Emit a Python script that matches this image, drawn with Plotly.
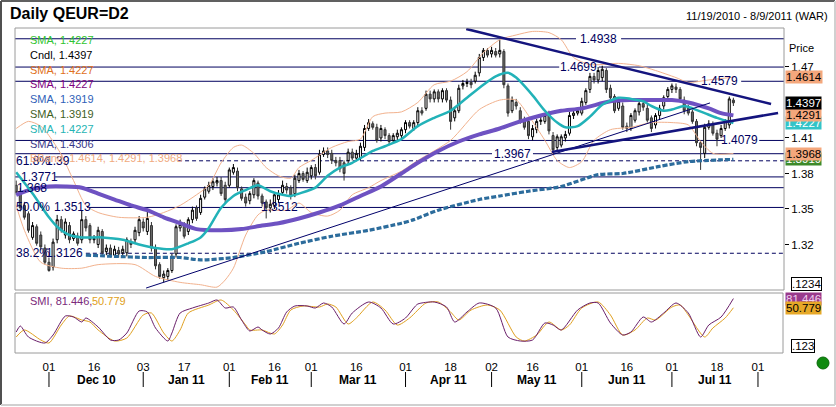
import pandas as pd
import plotly.graph_objects as go

W, H = 836, 407
def px(x): return x / W
def py(y): return 1 - y / H

# ---------------- data ----------------
START, END = '2010-11-19', '2011-08-09'
CAL = pd.bdate_range(START, END)
def di(d): return int(CAL.get_loc(pd.Timestamp(d)))

OPEN = [1.370,1.364,1.353,1.346,1.326,1.335,1.328,1.317,1.305,1.301,
1.324,1.341,1.328,1.336,1.325,1.327,1.324,1.341,1.336,1.324,
1.320,1.331,1.314,1.317,1.311,1.315,1.313,1.313,1.322,1.324,
1.330,1.339,1.331,1.336,1.317,1.303,1.292,1.293,1.298,1.312,
1.334,1.336,1.331,1.341,1.351,1.347,1.360,1.365,1.369,1.372,
1.374,1.370,1.370,1.381,1.382,1.367,1.360,1.357,1.362,1.372,
1.361,1.356,1.351,1.353,1.358,1.364,1.369,1.368,1.363,1.374,
1.380,1.374,1.378,1.385,1.381,1.396,1.399,1.397,1.391,1.391,
1.389,1.391,1.398,1.393,1.393,1.402,1.418,1.422,1.419,1.410,
1.417,1.412,1.408,1.411,1.412,1.417,1.423,1.418,1.423,1.433,
1.435,1.447,1.443,1.449,1.443,1.450,1.442,1.427,1.433,1.454,
1.456,1.457,1.458,1.465,1.478,1.484,1.481,1.483,1.481,1.483,
1.454,1.433,1.440,1.433,1.425,1.424,1.411,1.417,1.424,1.424,
1.430,1.412,1.402,1.404,1.410,1.414,1.429,1.431,1.431,1.440,
1.451,1.462,1.459,1.461,1.467,1.452,1.445,1.435,1.437,1.420,
1.418,1.425,1.432,1.439,1.435,1.427,1.421,1.429,1.437,1.445,
1.451,1.453,1.451,1.442,1.435,1.432,1.424,1.406,1.397,1.419,
1.421,1.414,1.412,1.418,1.421,1.442]
HIGH = [1.374,1.368,1.356,1.348,1.339,1.337,1.331,1.320,1.309,1.325,
1.345,1.344,1.342,1.339,1.331,1.330,1.349,1.344,1.338,1.328,
1.335,1.333,1.320,1.320,1.319,1.318,1.319,1.326,1.325,1.335,
1.344,1.342,1.349,1.339,1.320,1.305,1.298,1.300,1.312,1.337,
1.341,1.339,1.343,1.352,1.353,1.362,1.369,1.373,1.376,1.377,
1.377,1.373,1.385,1.388,1.385,1.369,1.363,1.365,1.376,1.374,
1.363,1.358,1.358,1.364,1.366,1.374,1.372,1.370,1.379,1.383,
1.382,1.385,1.387,1.388,1.400,1.402,1.402,1.400,1.394,1.394,
1.391,1.401,1.401,1.400,1.406,1.421,1.426,1.424,1.422,1.421,
1.419,1.414,1.414,1.417,1.419,1.425,1.425,1.425,1.436,1.436,
1.450,1.450,1.451,1.451,1.452,1.452,1.445,1.435,1.455,1.459,
1.460,1.460,1.466,1.481,1.486,1.486,1.487,1.486,1.493,1.485,
1.456,1.445,1.443,1.436,1.428,1.426,1.421,1.426,1.428,1.431,
1.433,1.415,1.413,1.413,1.416,1.432,1.433,1.435,1.444,1.452,
1.465,1.465,1.470,1.471,1.469,1.455,1.447,1.444,1.440,1.423,
1.431,1.435,1.441,1.441,1.438,1.429,1.431,1.438,1.446,1.453,
1.456,1.456,1.453,1.445,1.438,1.434,1.426,1.408,1.422,1.425,
1.424,1.417,1.421,1.426,1.445,1.444]
LOW = [1.362,1.348,1.341,1.330,1.324,1.319,1.315,1.303,1.297,1.298,
1.321,1.330,1.325,1.321,1.323,1.319,1.321,1.331,1.321,1.321,
1.317,1.310,1.311,1.309,1.309,1.309,1.310,1.310,1.317,1.321,
1.327,1.331,1.328,1.314,1.299,1.291,1.288,1.290,1.296,1.309,
1.331,1.325,1.328,1.338,1.340,1.345,1.358,1.363,1.366,1.369,
1.361,1.355,1.368,1.379,1.365,1.357,1.352,1.354,1.359,1.358,
1.352,1.342,1.347,1.350,1.355,1.362,1.363,1.358,1.360,1.372,
1.373,1.372,1.375,1.375,1.379,1.394,1.393,1.388,1.386,1.381,
1.374,1.388,1.391,1.391,1.391,1.399,1.416,1.417,1.406,1.407,
1.409,1.404,1.406,1.408,1.409,1.414,1.418,1.416,1.420,1.429,
1.433,1.440,1.440,1.440,1.440,1.440,1.417,1.424,1.431,1.451,
1.453,1.452,1.456,1.462,1.475,1.478,1.478,1.478,1.478,1.452,
1.428,1.431,1.434,1.422,1.417,1.409,1.408,1.414,1.421,1.422,
1.413,1.397,1.399,1.402,1.407,1.412,1.426,1.429,1.429,1.438,
1.448,1.456,1.456,1.458,1.448,1.441,1.431,1.433,1.417,1.415,
1.416,1.423,1.429,1.433,1.423,1.415,1.418,1.426,1.434,1.442,
1.448,1.448,1.440,1.430,1.429,1.422,1.403,1.383,1.393,1.417,
1.412,1.403,1.410,1.416,1.418,1.437]
CLOSE = [1.364,1.351,1.343,1.332,1.336,1.321,1.318,1.305,1.298,1.322,
1.341,1.332,1.339,1.324,1.329,1.321,1.341,1.334,1.324,1.325,
1.332,1.313,1.317,1.311,1.316,1.312,1.316,1.324,1.320,1.332,
1.341,1.334,1.342,1.317,1.302,1.293,1.295,1.298,1.309,1.335,
1.337,1.327,1.341,1.349,1.342,1.359,1.367,1.370,1.373,1.374,
1.363,1.358,1.383,1.385,1.368,1.359,1.355,1.363,1.374,1.361,
1.355,1.351,1.354,1.362,1.362,1.370,1.366,1.361,1.376,1.380,
1.375,1.381,1.385,1.378,1.396,1.399,1.396,1.391,1.389,1.384,
1.380,1.398,1.393,1.397,1.403,1.418,1.423,1.419,1.408,1.418,
1.412,1.407,1.412,1.414,1.417,1.423,1.420,1.423,1.433,1.431,
1.447,1.443,1.449,1.443,1.450,1.442,1.424,1.433,1.452,1.456,
1.457,1.455,1.463,1.478,1.484,1.480,1.484,1.480,1.484,1.455,
1.431,1.442,1.437,1.424,1.419,1.412,1.418,1.424,1.425,1.429,
1.416,1.400,1.411,1.411,1.413,1.429,1.431,1.433,1.441,1.450,
1.462,1.459,1.467,1.468,1.451,1.444,1.433,1.441,1.419,1.418,
1.429,1.433,1.439,1.436,1.425,1.418,1.429,1.435,1.444,1.451,
1.454,1.451,1.443,1.433,1.431,1.424,1.406,1.402,1.419,1.422,
1.414,1.409,1.418,1.424,1.443,1.4397]
X = list(range(len(CLOSE)))

# indicator readings (trading-day index, value)
TEAL_X = [0,4,8,10,13,16,21,26,30,34,38,42,45,47,50,53,56,59,62,65,67,69,73,76,79,82,85,87,90,94,
          98,102,106,110,114,117,120,122,126,129,132,134,137,140,143,147,150,153,155,158,160,163,165,168,171,175]
TEAL_Y = [1.381,1.363,1.343,1.335,1.328,1.326,1.326,1.324,1.320,1.317,1.316,1.321,1.326,1.334,1.351,1.361,
          1.366,1.370,1.365,1.362,1.361,1.363,1.368,1.378,1.385,1.389,1.395,1.399,1.403,1.409,1.420,1.427,
          1.433,1.444,1.455,1.462,1.465,1.461,1.446,1.433,1.423,1.419,1.420,1.428,1.438,1.444,1.443,1.441,
          1.437,1.433,1.434,1.437,1.435,1.431,1.427,1.4227]
PURPLE_X = [0,4,8,12,16,20,24,28,32,36,40,44,50,55,60,64,69,74,79,84,89,94,98,103,108,113,118,123,128,133,
            138,145,150,155,160,164,169,172,175]
PURPLE_Y = [1.362,1.367,1.369,1.369,1.368,1.363,1.358,1.353,1.349,1.343,1.338,1.333,1.332,1.333,1.336,1.338,
            1.342,1.347,1.353,1.361,1.369,1.380,1.389,1.399,1.407,1.413,1.418,1.424,1.429,1.433,1.435,1.441,
            1.442,1.442,1.442,1.440,1.435,1.431,1.4291]
LONG_X = [17,24,32,40,45,53,61,69,77,86,94,97,103,113,118,125,133,142,148,157,164,175]
LONG_Y = [1.311,1.310,1.309,1.309,1.307,1.309,1.314,1.321,1.327,1.332,1.338,1.341,1.349,1.358,1.361,1.365,
          1.369,1.379,1.380,1.386,1.390,1.3919]
UPPER_X = [0,3,6,8,11,14,17,20,25,32,36,40,44,47,50,53,55,58,61,64,67,69,72,77,81,84,87,90,94,98,102,106,
           110,114,118,122,126,130,133,136,140,147,152,156,161,164,169,175]
UPPER_Y = [1.418,1.424,1.420,1.412,1.396,1.374,1.353,1.347,1.343,1.343,1.347,1.353,1.362,1.370,1.389,1.402,
           1.404,1.397,1.385,1.378,1.376,1.385,1.391,1.402,1.407,1.409,1.428,1.431,1.432,1.440,1.455,1.458,
           1.466,1.482,1.493,1.497,1.500,1.499,1.493,1.478,1.472,1.473,1.471,1.467,1.461,1.457,1.459,1.4614]
LOWER_X = [0,2,6,11,16,20,29,34,40,45,49,51,53,56,59,61,66,69,72,76,79,82,86,89,94,98,106,113,118,122,
           125,129,132,135,138,141,145,150,155,160,164,167,170,175]
LOWER_Y = [1.353,1.332,1.305,1.300,1.300,1.303,1.303,1.293,1.288,1.286,1.284,1.290,1.300,1.328,1.345,1.349,
           1.349,1.355,1.347,1.344,1.349,1.362,1.368,1.374,1.382,1.391,1.408,1.434,1.442,1.442,1.429,1.408,
           1.391,1.385,1.390,1.408,1.417,1.419,1.423,1.423,1.421,1.407,1.397,1.3968]
SMI_X = [0,1,3,7,9,12,14,16,17,20,23,25,27,30,32,34,37,38,40,43,47,49,51,53,55,57,59,60,62,64,66,68,71,73,
         75,77,80,82,86,89,92,95,97,98,102,105,107,110,113,117,120,123,126,129,131,133,137,140,142,145,148,
         150,153,155,158,161,164,167,169,172,175]
SMI_V = [-30,-10,-46.7,-66.7,-40,23.3,20,3.3,16.7,-13.3,-56.7,-56.7,-33.3,40,36.7,-16.7,-60,-33.3,33.3,50,
         66.7,76.7,50,53.3,10,-26.7,-13.3,-23.3,-36.7,-16.7,36.7,56.7,56.7,50,66.7,53.3,-3.3,33.3,70,50,
         -3.3,16.7,50,63.3,70,53.3,3.3,36.7,66.7,50,-46.7,-60,-56.7,0,-6.7,-23.3,43.3,66.7,66.7,0,
         -40,-30,20,3.3,33.3,66.7,33.3,-46.7,-6.7,20,81.446]
SIG_X = [0,2,6,8,11,13,16,18,20,24,27,31,33,36,38,40,42,47,50,53,56,57,60,63,65,67,70,74,76,78,81,83,87,
         90,93,96,100,103,106,108,111,115,118,122,124,127,130,133,135,138,142,145,148,151,154,156,160,162,
         164,168,170,173,175]
SIG_V = [-46.7,-23.3,-56.7,-66.7,-6.7,23.3,10,3.3,-23.3,-60,-50,26.7,33.3,-33.3,-60,-23.3,33.3,60,76.7,43.3,
         -6.7,-23.3,-23.3,-36.7,-6.7,43.3,56.7,53.3,63.3,53.3,-3.3,16.7,70,43.3,-6.7,16.7,66.7,70,36.7,10,
         43.3,60,43.3,-46.7,-60,-40,3.3,-23.3,-6.7,50,70,26.7,-40,-23.3,16.7,10,53.3,60,26.7,-46.7,
         -16.7,16.7,50.779]

# trend lines (day index, price)
TL_DOWN = ([109.8, 184.2], [1.5021, 1.4387])
TL_UP = ([130.7, 185.9], [1.3982, 1.4311])
TL_LONG = ([31.7, 169.3], [1.2832, 1.4396])

# horizontal price levels
LEVELS = [1.4938, 1.4699, 1.4579, 1.4079, 1.3967, 1.3907, 1.3771, 1.368, 1.3513, 1.3126]
LEVEL_DASH = [False, False, False, False, False, True, False, False, False, True]

PRICE_TICKS = [1.32, 1.35, 1.38, 1.41, 1.47]
DAY_TICKS = ['2010-12-01','2010-12-16','2011-01-03','2011-01-17','2011-02-01','2011-02-16','2011-03-01',
             '2011-03-16','2011-04-01','2011-04-18','2011-05-02','2011-05-16','2011-06-01','2011-06-16',
             '2011-07-01','2011-07-18','2011-08-01']
MONTH_STARTS = ['2010-12-01','2011-01-03','2011-02-01','2011-03-01','2011-04-01','2011-05-02',
                '2011-06-01','2011-07-01','2011-08-01']
MONTH_LABELS = ['Dec 10','Jan 11','Feb 11','Mar 11','Apr 11','May 11','Jun 11','Jul 11']

LEGEND = [('SMA, 1.4227', '#2fc42f'), ('Cndl, 1.4397', '#000000'), ('SMA, 1.4227', '#e0701c'),
          ('SMA, 1.4227', '#800080'), ('SMA, 1.3919', '#2f5fb8'), ('SMA, 1.3919', '#3f5f1f'),
          ('SMA, 1.4227', '#26b4b4'), ('SMA, 1.4306', '#3a3a8a'), ('BBand, 1.4614, 1.4291, 1.3968', '#f0aa80')]

# ---------------- figure ----------------
FONT = 'Liberation Sans, Arial, sans-serif'
NAVY = '#00005e'
XR = [-0.29, 187.35]
fig = go.Figure()

def line(xs, ys, color, width, dash=None, shape='spline', axis=('x', 'y')):
    fig.add_trace(go.Scatter(x=xs, y=ys, mode='lines', xaxis=axis[0], yaxis=axis[1],
                             line=dict(color=color, width=width, dash=dash, shape=shape, smoothing=0.7),
                             hoverinfo='skip', showlegend=False))

fig.add_trace(go.Candlestick(
    x=X, open=OPEN, high=HIGH, low=LOW, close=CLOSE, xaxis='x', yaxis='y',
    increasing=dict(fillcolor='#ffffff', line=dict(color='#000000', width=1)),
    decreasing=dict(fillcolor='#6a6a6a', line=dict(color='#333333', width=1)),
    whiskerwidth=0, showlegend=False, hoverinfo='skip'))

line(UPPER_X, UPPER_Y, '#f2b28e', 1)
line(LOWER_X, LOWER_Y, '#f2b28e', 1)
line(LONG_X, LONG_Y, '#2c6c9c', 3.2, dash='5px,2px')
line(PURPLE_X, PURPLE_Y, '#6e52c2', 4)
line(TEAL_X, TEAL_Y, '#22b2b8', 2.5)
line(TL_LONG[0], TL_LONG[1], '#00006a', 1, shape='linear')
line(TL_DOWN[0], TL_DOWN[1], '#14147e', 2.6, shape='linear')
line(TL_UP[0], TL_UP[1], '#14147e', 2.6, shape='linear')
line(SIG_X, SIG_V, '#e0a020', 1, axis=('x2', 'y2'))
line(SMI_X, SMI_V, '#6a1f6a', 1, axis=('x2', 'y2'))

shapes = []
# level segments (gaps leave room for labels)
GAPS = {1.4938: [(136.6, 147.6)], 1.4699: [(132.5, 142.2)], 1.4579: [(166.4, 176.9)],
        1.4079: [(172.7, 181.3)], 1.3967: [(116.1, 126.1)], 1.3907: [(XR[0], 39.5)],
        1.3771: [(0.7, 9.5)], 1.368: [(XR[0], 6.3)], 1.3513: [(XR[0], 17.3), (60.0, 68.3)],
        1.3126: [(XR[0], 17.0)]}
for lv, dash in zip(LEVELS, LEVEL_DASH):
    pts = [XR[0]]
    for a, b in GAPS.get(lv, []):
        pts += [a, b]
    pts.append(XR[1])
    for i in range(0, len(pts), 2):
        if pts[i + 1] - pts[i] > 0.05:
            shapes.append(dict(type='line', xref='x', yref='y', x0=pts[i], x1=pts[i + 1], y0=lv, y1=lv,
                               layer='below', line=dict(color=NAVY, width=1, dash='4px,3px' if dash else None)))

# frames
GRID = '#9a9a9a'
shapes += [
    dict(type='rect', xref='paper', yref='paper', x0=px(15), x1=px(784), y0=py(290), y1=py(28),
         line=dict(color=GRID, width=1), layer='above'),
    dict(type='rect', xref='paper', yref='paper', x0=px(15), x1=px(783), y0=py(353), y1=py(293),
         line=dict(color=GRID, width=1), layer='above'),
    dict(type='line', xref='paper', yref='paper', x0=px(1), x1=px(835), y0=py(1), y1=py(1),
         line=dict(color='#606060', width=2)),
    dict(type='line', xref='paper', yref='paper', x0=px(1), x1=px(1), y0=py(1), y1=py(405),
         line=dict(color='#505050', width=2)),
    dict(type='line', xref='paper', yref='paper', x0=px(1), x1=px(835), y0=py(405), y1=py(405),
         line=dict(color='#d0d0d0', width=2)),
    dict(type='line', xref='paper', yref='paper', x0=px(835), x1=px(835), y0=py(1), y1=py(405),
         line=dict(color='#d0d0d0', width=2)),
    dict(type='circle', xref='paper', yref='paper', x0=px(817), x1=px(829), y0=py(369), y1=py(357),
         fillcolor='#0f8a0f', line=dict(color='#0a6a0a', width=1)),
]
# month separators
for d in MONTH_STARTS:
    shapes.append(dict(type='line', xref='x2', yref='paper', x0=di(d), x1=di(d), y0=py(372), y1=py(387),
                       line=dict(color='#000000', width=1)))

ann = []
def text(x, y, s, size=11, color='#000000', xanchor='left', xref='paper', yref='paper', bold=False,
         bg=None, border=None):
    d = dict(x=x, y=y, xref=xref, yref=yref, text=('<b>%s</b>' % s) if bold else s, showarrow=False,
             xanchor=xanchor, yanchor='middle', font=dict(size=size, color=color, family=FONT), borderpad=0)
    if bg:
        d['bgcolor'] = bg
    if border:
        d['bordercolor'] = border
        d['borderwidth'] = 1
    ann.append(d)

text(px(9), py(14), 'Daily QEUR=D2', size=16, bold=True)
text(px(829), py(16), '%s - %s (WAR)' % ('11/19/2010', '8/9/2011'), size=11, xanchor='right')
text(px(788), py(48), 'Price', size=11)

# level labels
text(142.0, 1.4938, '1.4938', 12, NAVY, 'center', 'x', 'y')
text(137.3, 1.4699, '1.4699', 12, NAVY, 'center', 'x', 'y')
text(171.7, 1.4579, '1.4579', 12, NAVY, 'center', 'x', 'y')
text(176.4, 1.4079, '1.4079', 12, NAVY, 'center', 'x', 'y')
text(121.0, 1.3967, '1.3967', 12, NAVY, 'center', 'x', 'y')
text(64.2, 1.3513, '1.3512', 12, NAVY, 'center', 'x', 'y')
text(px(15), 1.3907, '61.8%', 12, NAVY, yref='y')
text(px(45), 1.3907, '1.39', 12, NAVY, yref='y')
text(px(20), 1.3771, '1.3771', 12, NAVY, yref='y')
text(px(16), 1.368, '1.368', 12, NAVY, yref='y')
text(px(15), 1.3513, '50.0%', 12, NAVY, yref='y')
text(px(53), 1.3513, '1.3513', 12, NAVY, yref='y')
text(px(15), 1.3126, '38.2%', 12, NAVY, yref='y')
text(px(45), 1.3126, '1.3126', 12, NAVY, yref='y')

# legend
for i, (s, c) in enumerate(LEGEND):
    text(px(29), py(40 + 14.8 * i), s, 11, c)
text(px(29), py(301), 'SMI, 81.446,', 11, '#7a2a7a')
text(px(91), py(301), '50.779', 11, '#e0a020')

# right-hand value boxes
text(px(785), 1.3919, '1.3919', 11.5, '#ffffff', yref='y', bg='#3d8a2a')
text(px(785), 1.3968, '1.3968', 11.5, '#000000', yref='y', bg='#f4a77c')
text(px(785), 1.4227, '1.4227', 11.5, '#ffffff', yref='y', bg='#33c4c8')
text(px(785), 1.4291, '1.4291', 11.5, '#000000', yref='y', bg='#f4a77c')
text(px(785), 1.4397, '1.4397', 11.5, '#ffffff', yref='y', bg='#000000')
text(px(785), 1.4614, '1.4614', 11.5, '#000000', yref='y', bg='#f4a77c')
text(px(791), py(284), '.1234', 11.5, '#000000', bg='#ffffff', border='#000000')
text(px(785), 81.446, '81.446', 11.5, '#f0d0f0', yref='y2', bg='#993a8c')
text(px(785), 50.779, '50.779', 11.5, '#000000', yref='y2', bg='#e6a828')
text(px(791), py(346), '.123', 11.5, '#000000', bg='#ffffff', border='#000000')

# month labels
for i, lab in enumerate(MONTH_LABELS):
    mid = (di(MONTH_STARTS[i]) + di(MONTH_STARTS[i + 1])) / 2
    text(mid, py(380), lab, 12, '#000000', 'center', 'x2', 'paper', bold=True)

fig.update_layout(
    width=W, height=H, margin=dict(l=0, r=0, t=0, b=0),
    paper_bgcolor='#ffffff', plot_bgcolor='#ffffff', showlegend=False,
    font=dict(family=FONT, size=11, color='#000000'),
    xaxis=dict(domain=[px(15), px(784)], range=XR, visible=False, anchor='y',
               rangeslider=dict(visible=False), fixedrange=True),
    yaxis=dict(domain=[py(289), py(28)], range=[1.2824, 1.5029], side='right', anchor='x',
               tickvals=PRICE_TICKS, ticktext=['%.2f' % v for v in PRICE_TICKS],
               ticks='outside', ticklen=4, tickcolor='#000000', showgrid=False, zeroline=False,
               showline=False, tickfont=dict(size=11.5, color='#000000')),
    xaxis2=dict(domain=[px(15), px(784)], range=XR, anchor='y2',
                tickvals=[di(d) for d in DAY_TICKS], ticktext=[d[-2:] for d in DAY_TICKS],
                ticks='outside', ticklen=3, tickcolor='rgba(0,0,0,0)', showgrid=False, zeroline=False,
                showline=False, tickfont=dict(size=11.5, color='#000000')),
    yaxis2=dict(domain=[py(353), py(293)], range=[-100, 100], visible=False, anchor='x2'),
    shapes=shapes, annotations=ann,
)

fig.write_html('out.html')
